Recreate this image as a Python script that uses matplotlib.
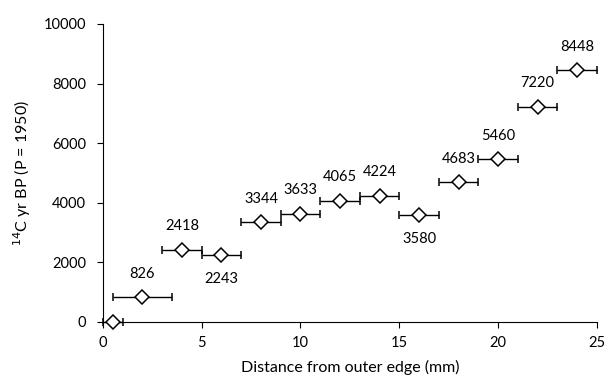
import matplotlib
matplotlib.use("Agg")
import matplotlib.pyplot as plt

# Distance from outer edge (mm), horizontal half-width, and 14C age
distance = [0.5, 2, 4, 6, 8, 10, 12, 14, 16, 18, 20, 22, 24]
distance_err = [0.5, 1.5, 1, 1, 1, 1, 1, 1, 1, 1, 1, 1, 1]
age = [0, 826, 2418, 2243, 3344, 3633, 4065, 4224, 3580, 4683, 5460, 7220, 8448]
# where each value label goes relative to its point (None = no label)
label_pos = [None, "above", "above", "below", "above", "above", "above",
             "above", "below", "above", "above", "above", "above"]

plt.rcParams["font.family"] = ["Lato", "DejaVu Sans"]

fig = plt.figure(figsize=(6.09, 3.87), dpi=100)
ax = fig.add_axes([0.169, 0.168, 0.811, 0.770])

ax.errorbar(distance, age, xerr=distance_err, fmt="D", color="black",
            mfc="white", mec="black", ms=7, mew=1.1, elinewidth=1.0,
            capsize=3, capthick=1.0, clip_on=False, zorder=3)

for x, y, pos in zip(distance, age, label_pos):
    if pos == "above":
        ax.annotate(str(y), (x, y), xytext=(0, 12), textcoords="offset points",
                    ha="center", va="bottom", fontsize=10.5)
    elif pos == "below":
        ax.annotate(str(y), (x, y), xytext=(0, -12), textcoords="offset points",
                    ha="center", va="top", fontsize=10.5)

ax.set_xlim(0, 25)
ax.set_ylim(0, 10000)
ax.set_xticks([0, 5, 10, 15, 20, 25])
ax.set_yticks([0, 2000, 4000, 6000, 8000, 10000])
ax.spines["top"].set_visible(False)
ax.spines["right"].set_visible(False)
ax.tick_params(direction="out", length=4, labelsize=10.5)
ax.tick_params(axis="y", pad=8)
ax.tick_params(axis="x", pad=6)
ax.set_xlabel("Distance from outer edge (mm)", fontsize=11.5, labelpad=7)
ax.set_ylabel("$^{14}$C yr BP (P = 1950)", fontsize=11.5, labelpad=8)

fig.savefig("out.png", dpi=100)
